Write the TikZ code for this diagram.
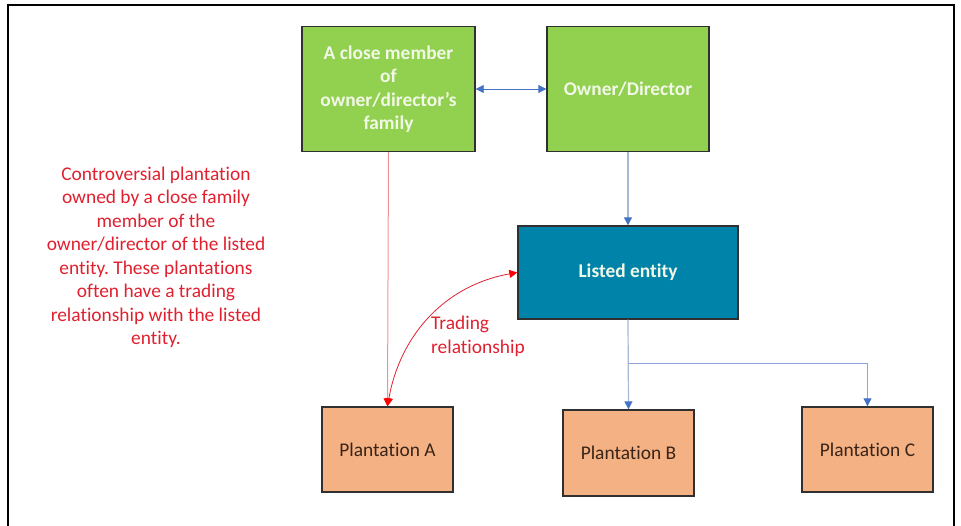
\documentclass[tikz,border=0pt]{standalone}
\usepackage{fontspec}
\setmainfont{Carlito}[Ligatures=NoCommon]
\frenchspacing
\usetikzlibrary{arrows.meta}
\definecolor{boxgreen}{HTML}{92D050}
\definecolor{boxteal}{HTML}{0083A9}
\definecolor{boxorange}{HTML}{F4B183}
\definecolor{edgegrey}{HTML}{303030}
\definecolor{arrblue}{HTML}{4472C4}
\definecolor{lineblue}{HTML}{A9B6D6}
\definecolor{branchblue}{HTML}{8EA6DA}
\definecolor{txtred}{HTML}{E0202F}
\definecolor{linepink}{HTML}{F2909A}
\definecolor{darktxt}{HTML}{3A2418}
\definecolor{lighttxt}{HTML}{F2F8E8}
\tikzset{
  x=1pt, y=-1pt,
  fnt/.style={font=\fontsize{19.4}{23.5}\selectfont},
  boxbase/.style={draw=edgegrey, line width=1.4pt, inner sep=0pt, align=center, fnt},
  greenbox/.style={boxbase, fill=boxgreen, text=lighttxt, font=\fontsize{19.4}{23.5}\selectfont\bfseries},
  tealbox/.style={boxbase, fill=boxteal, text=lighttxt, font=\fontsize{19.4}{23.5}\selectfont\bfseries},
  orangebox/.style={boxbase, fill=boxorange, text=darktxt},
  bluetip/.style={-{Triangle[length=8pt,width=8pt,color=arrblue]}},
  redtip/.style={{Triangle[length=8pt,width=8pt,color=red]}-{Triangle[length=8pt,width=8pt,color=red]}},
  redtxt/.style={text=txtred, fnt, align=center, inner sep=0pt},
}
\begin{document}
\begin{tikzpicture}
\useasboundingbox (0,0) rectangle (961,525);
% frame
\draw[line width=1.5pt, black] (8,526) -- (8,5) -- (954,5) -- (954,526);
% boxes
\node[greenbox, minimum width=173pt, minimum height=125pt] (fam) at (388.5,89)
  {A close member\\of\\owner/director's\\family};
\node[greenbox, minimum width=162pt, minimum height=125pt] (own) at (628,89) {Owner/Director};
\node[tealbox, minimum width=220pt, minimum height=93pt] (le) at (628,272.5) {Listed entity};
\node[orangebox, minimum width=131pt, minimum height=85pt] (pa) at (387.5,449.5) {Plantation A};
\node[orangebox, minimum width=131pt, minimum height=86pt] (pb) at (628.5,453) {Plantation B};
\node[orangebox, minimum width=131pt, minimum height=85pt] (pc) at (867.5,449.5) {Plantation C};
% texts
\node[redtxt] (note) at (156,257.5)
  {Controversial plantation\\owned by a close family\\member of the\\owner/director of the listed\\entity. These plantations\\often have a trading\\relationship with the listed\\entity.};
\node[redtxt, align=left, anchor=north west] (trade) at (431,316) {Trading\\relationship};
% connectors
\draw[arrblue, line width=0.9pt, {Triangle[length=8pt,width=8pt]}-{Triangle[length=8pt,width=8pt]}] (fam.east) -- (own.west);
\draw[lineblue, line width=1.2pt, bluetip] (own.south) -- (le.north);
\draw[lineblue, line width=1.2pt, bluetip] (le.south) -- (pb.north);
\coordinate (br) at (628,363);
\draw[branchblue, line width=1pt, bluetip] (br) -| (pc.north);
\draw[linepink, line width=1pt, -{Triangle[length=8pt,width=8pt,color=red]}] (fam.south) -- (pa.north);
\draw[txtred, line width=0.8pt, redtip] (pa.north) to[out=80, in=190] (le.west);
\end{tikzpicture}
\end{document}
